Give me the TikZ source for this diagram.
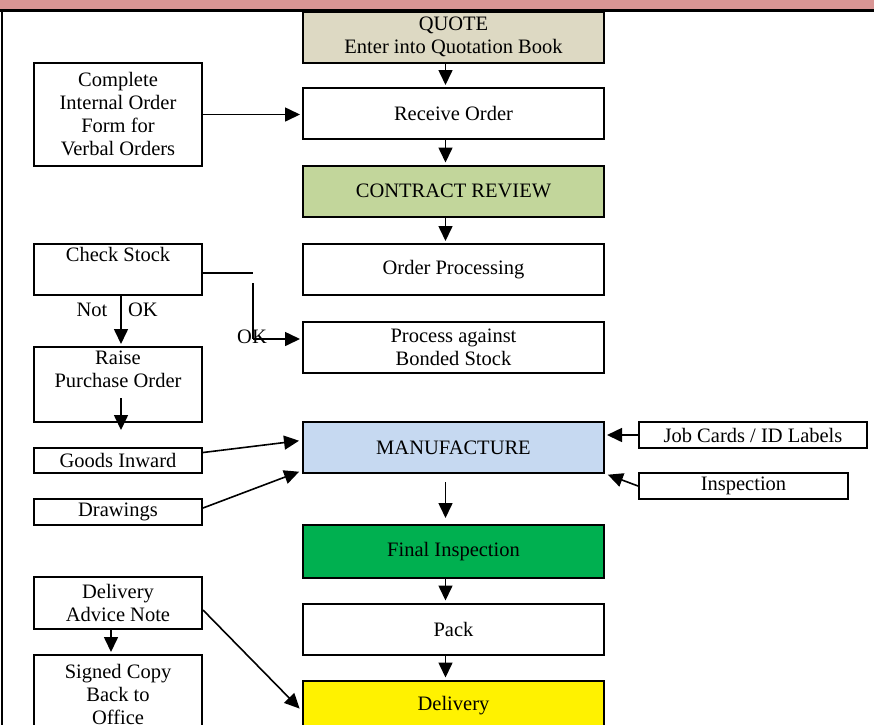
\documentclass[tikz,border=0pt]{standalone}
\usepackage{fontspec}
\setmainfont{Liberation Serif}
\usetikzlibrary{calc}
\usetikzlibrary{arrows.meta}
\usepackage{xcolor}
\definecolor{hdrpink}{HTML}{D99594}
\definecolor{quotefill}{HTML}{DDD9C3}
\definecolor{contractfill}{HTML}{C2D69B}
\definecolor{manufill}{HTML}{C6D9F1}
\definecolor{finalfill}{HTML}{00B050}

\begin{document}
\begin{tikzpicture}[x=1pt,y=-1pt,
  txt/.style={font=\fontsize{20.5}{23}\selectfont},
  box/.style={txt,draw,line width=2pt,align=center,inner sep=0pt},
  mainbox/.style={box,minimum width=301pt,minimum height=51pt},
  sidebox/.style={box,minimum width=168pt},
  conn/.style={line width=1.6pt},
  arr/.style={conn,-{Triangle[width=14pt,length=15pt]},shorten >=2pt}]
\def\mx{453.5};
\def\sx{118};
\useasboundingbox (0,0) rectangle (874,724);
\clip (0,0) rectangle (874,724);
\fill[hdrpink] (0,0) rectangle (874,10);
\draw[line width=2.2pt] (0,10.5) -- (874,10.5);
\draw[line width=2pt] (1.5,10.5) -- (1.5,730);
% main column
\node[mainbox,fill=quotefill] (quote) at (\mx,37) {QUOTE\\Enter into Quotation Book};
\node[mainbox] (receive) at (\mx,113.5) {Receive Order};
\node[mainbox,fill=contractfill] (contract) at (\mx,191) {CONTRACT REVIEW};
\node[mainbox] (orderproc) at (\mx,269.5) {Order Processing};
\node[mainbox] (bonded) at (\mx,347.5) {Process against\\Bonded Stock};
\node[mainbox,fill=manufill] (manu) at (\mx,447.5) {MANUFACTURE};
\node[mainbox,fill=finalfill,minimum height=53pt] (final) at (\mx,551.5) {Final Inspection};
\node[mainbox] (pack) at (\mx,629) {Pack};
\node[mainbox,fill=yellow] (delivery) at (\mx,706) {Delivery};
% left column
\node[sidebox,minimum height=103pt] (verbal) at (\sx,114.5) {Complete\\Internal Order\\Form for\\Verbal Orders};
\node[sidebox,minimum height=51pt] (stock) at (\sx,269.5) {Check Stock\\\strut};
\node[sidebox,minimum height=75pt] (purchase) at (\sx,384.5) {Raise\\Purchase Order\\\strut};
\node[sidebox,minimum height=25pt] (goods) at (\sx,460.5) {Goods Inward};
\node[sidebox,minimum height=26pt] (drawings) at (\sx,512) {Drawings};
\node[sidebox,minimum height=52pt] (advice) at (\sx,603) {Delivery\\Advice Note};
\node[sidebox,minimum height=78pt] (signed) at (\sx,694) {Signed Copy\\Back to\\Office};
% right column
\node[box,minimum width=228pt,minimum height=26pt] (jobcards) at (753,435) {Job Cards / ID Labels};
\node[box,minimum width=209pt,minimum height=26pt] (inspect) at (743.5,486) {Inspection};
% labels
\node[txt] (notlbl) at (92,310) {Not};
\node[txt] (oklbl) at (143,310) {OK};
\node[txt] (okbond) at (252,337) {OK};
% connectors
\foreach \a/\b in {quote/receive,receive/contract,contract/orderproc,final/pack,pack/delivery}
  \draw[arr] ([xshift=-8pt]\a.south) -- ([xshift=-8pt]\b.north);
\draw[arr,shorten <=8pt,shorten >=6pt] ([xshift=-8pt]manu.south) -- ([xshift=-8pt]final.north);
\draw[arr] (verbal.east) -- (verbal.east -| receive.west);
\coordinate (okbend) at (253,273);
\coordinate (oktop) at (253,283);
\coordinate (okfoot) at (253,339);
\draw[conn] ($(stock.east)+(0,3.5)$) -- (okbend);
\draw[conn] (oktop) -- (okfoot);
\draw[arr] (okfoot) -- (okfoot -| bonded.west);
\draw[arr] ([xshift=3pt]stock.south) -- ([xshift=3pt]purchase.north);
\draw[arr,shorten >=0pt] ($(purchase.south)+(3,-25)$) -- ($(purchase.south)+(3,7)$);
\draw[arr] ($(goods.east)+(0,-8)$) -- ($(manu.west)+(-1,-7)$);
\draw[arr] ($(drawings.east)+(0,-4)$) -- ($(manu.south west)+(-1,-3)$);
\draw[arr] (jobcards.west) -- (jobcards.west -| manu.east);
\draw[arr] (inspect.west) -- ($(manu.south east)+(1,0)$);
\draw[arr] ([xshift=-7pt]advice.south) -- ([xshift=-7pt]signed.north);
\draw[arr] ($(advice.east)+(0,7)$) -- ($(delivery.west)+(-1,4)$);
\end{tikzpicture}
\end{document}
